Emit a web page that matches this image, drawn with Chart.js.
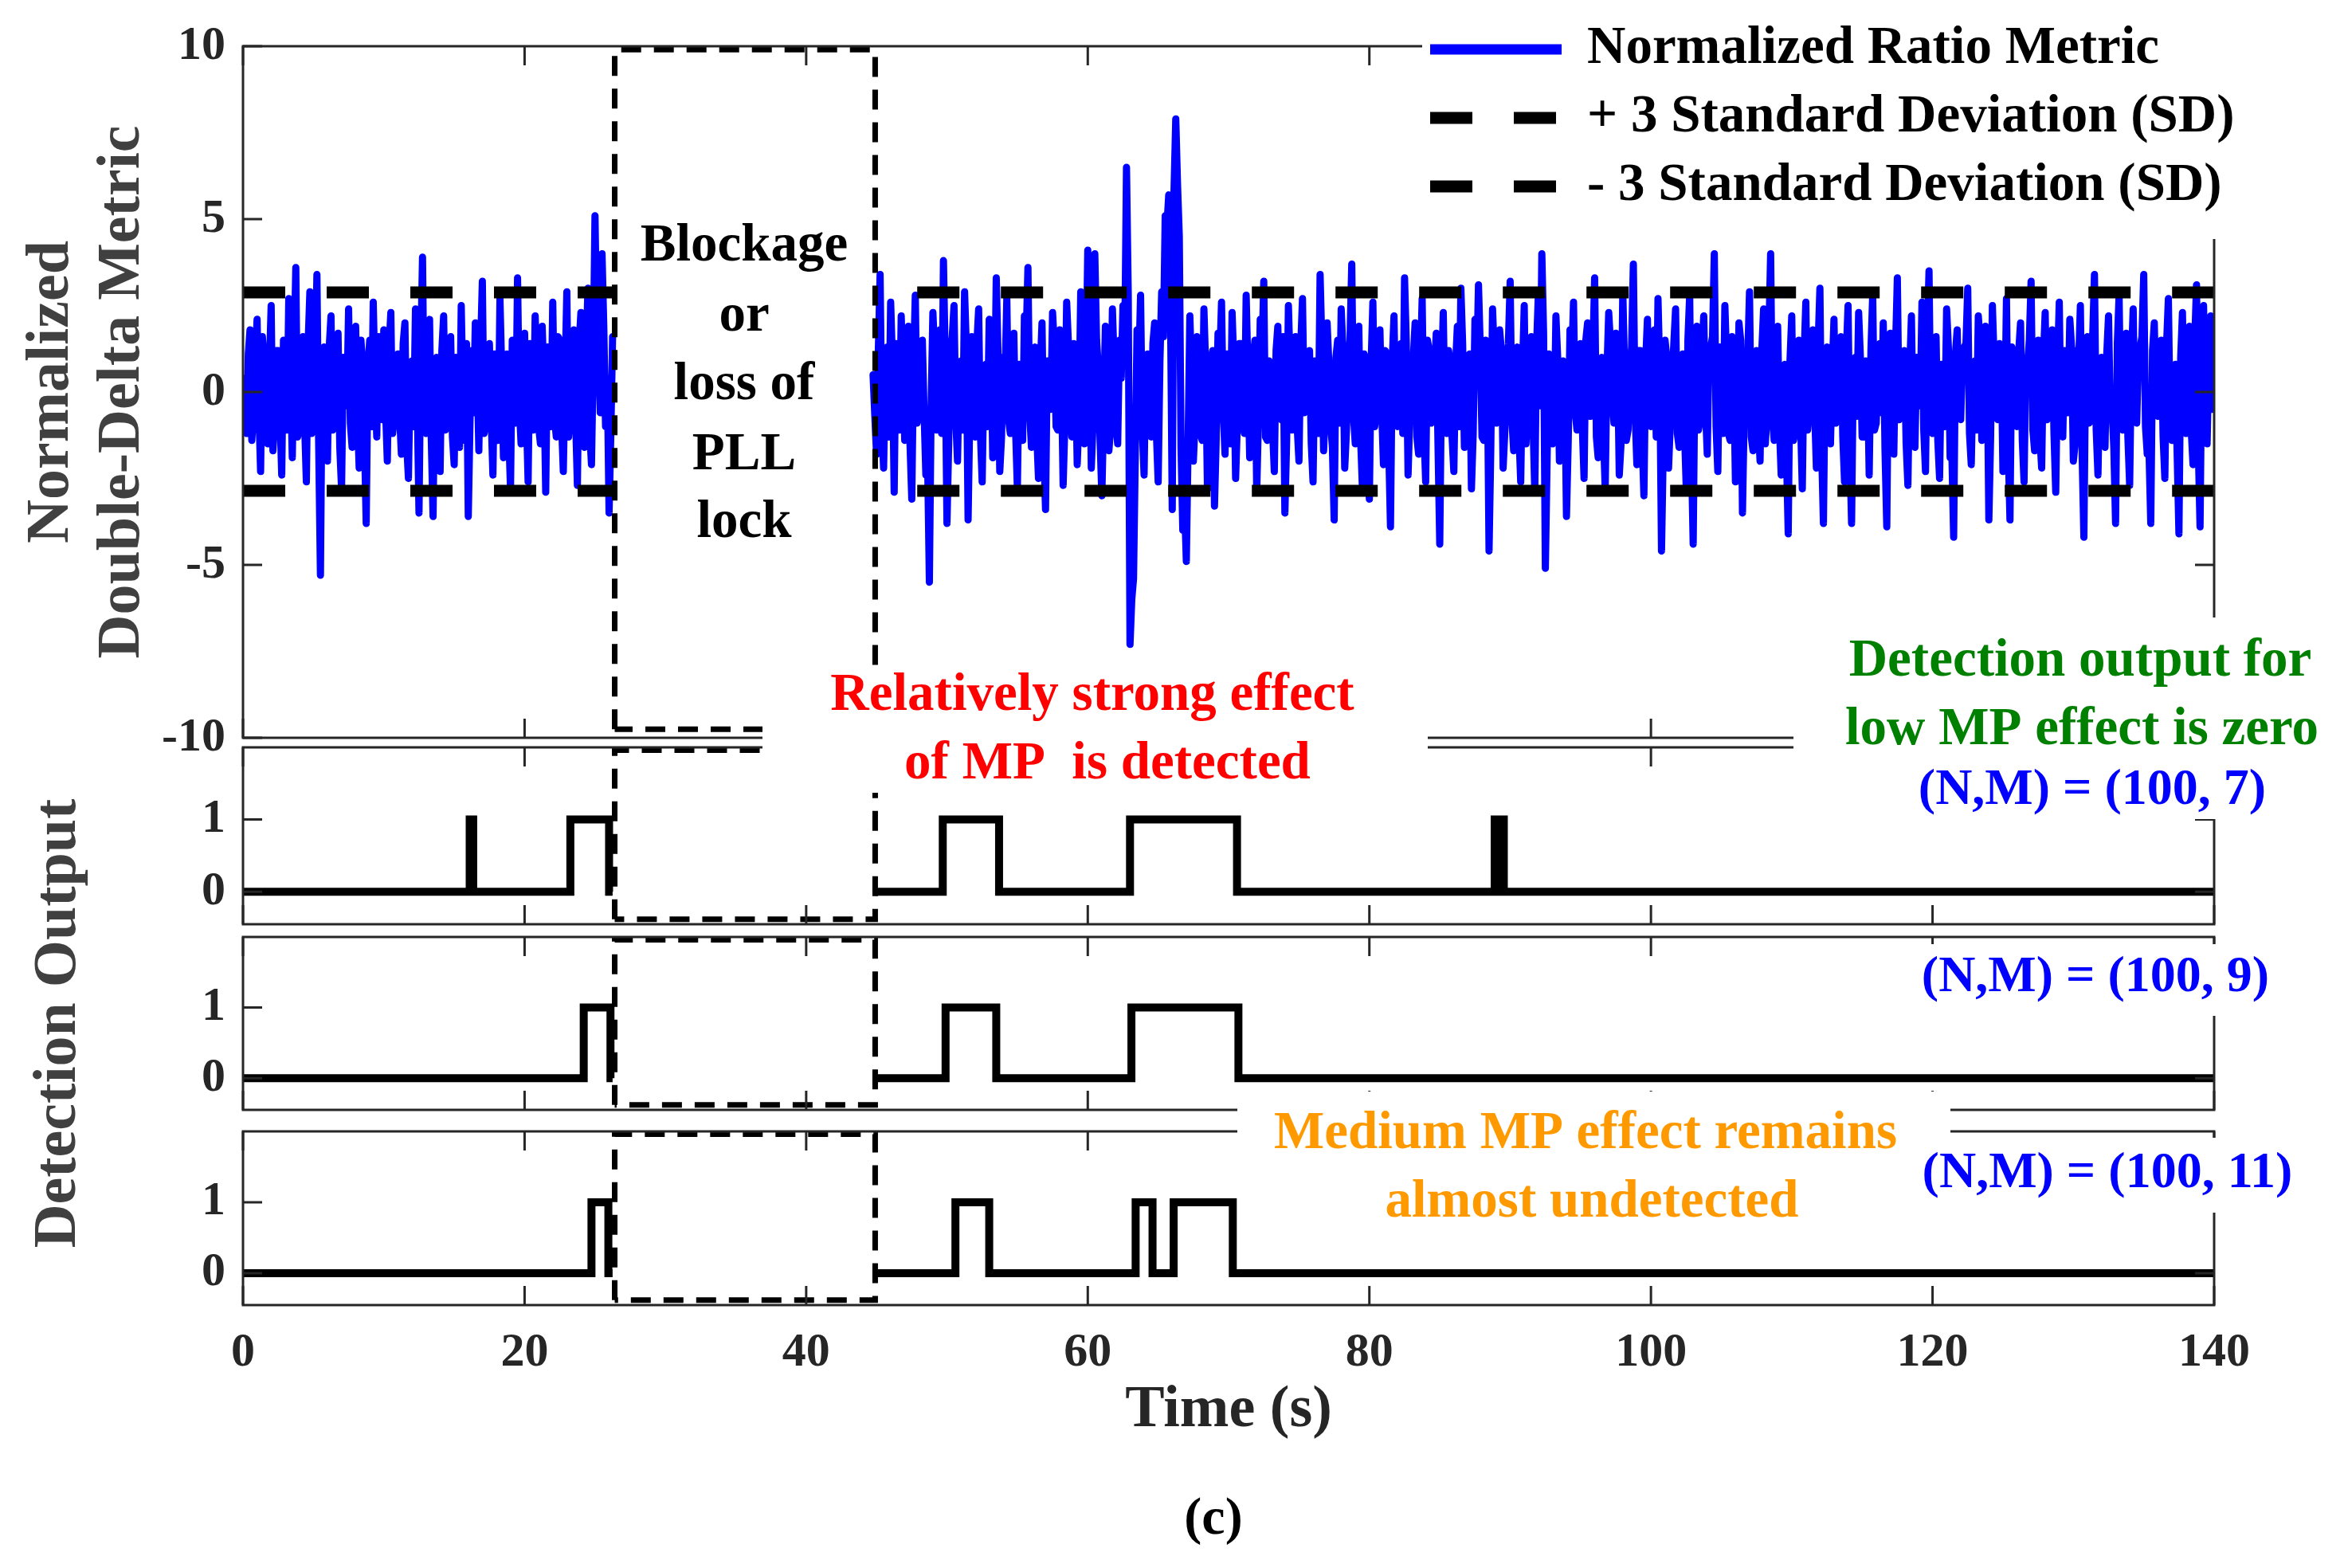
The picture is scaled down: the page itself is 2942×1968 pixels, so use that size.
<!DOCTYPE html>
<html>
<head>
<meta charset="utf-8">
<script src="https://cdn.jsdelivr.net/npm/chart.js@4.4.0/dist/chart.umd.min.js"></script>
<style>
  html, body { margin: 0; padding: 0; background: #ffffff; }
  #page { position: relative; width: 2942px; height: 1968px; }
  #page canvas { position: absolute; left: 0; top: 0; }
</style>
</head>
<body>
<div id="page">
  <canvas id="panelMetric" width="2942" height="1968"></canvas>
  <canvas id="panelM7" width="2942" height="1968"></canvas>
  <canvas id="panelM9" width="2942" height="1968"></canvas>
  <canvas id="panelM11" width="2942" height="1968"></canvas>
</div>
<script>
// ---- values ----
const timeTicks = [0, 20, 40, 60, 80, 100, 120, 140];
const metricTicks = [-10, -5, 0, 5, 10];
const detectionTicks = [0, 1];

// normalized ratio metric: samples every 0.25 s plus the samples half-way between them
const sampleStep = 0.25;
const metricStartBefore = 0;
const metricStartAfter = 44.75;
const metricBefore = [
  0.4, -1.2, 1.8, -0.6, 2.1, -2.3, 0.9, -1.5, 2.5, -0.8,
  1.2, -2.4, 0.3, 2.7, -1.9, 3.6, -1.1, 1.6, -2.6, 2.9,
  -0.4, 3.4, -5.3, 1.3, -2.0, 2.2, -0.9, 1.7, -2.8, 0.6,
  2.4, -1.6, 1.9, -2.2, 0.8, -3.8, 1.5, 2.6, -1.3, 0.2,
  1.8, -2.0, 2.3, -0.7, 1.1, -1.8, 2.0, -2.5, 0.9, 2.4,
  -3.5, 3.9, -1.2, 2.1, -3.6, 1.0, -2.3, 2.2, -0.5, 1.6,
  -2.1, 0.7, 2.5, -1.4, -3.6, 1.2, 2.0, -1.7, 3.2, -0.9,
  1.4, -2.4, 0.5, 2.7, -1.9, 1.1, -2.8, 0.8, 3.3, -1.5,
  1.7, -2.6, 0.4, 2.2, -1.0, 1.9, -2.9, 0.6, 2.6, -1.3,
  1.5, -2.3, 2.9, -0.6, 1.8, -2.7, 2.3, -1.6, 3.0, -2.1,
  5.1, 1.4, 4.0, -1.0, -3.5, 1.6
];
const metricBeforeMid = [
  -0.8, 1.1, -1.4, 0.9, -0.5, 1.6, -1.0, 0.7, -1.7, 1.2,
  -0.6, 1.5, -1.1, 0.4, 1.0, -1.3, 0.8, -0.9, 1.4, -1.2,
  0.6, -1.5, 0.9, -0.7, 1.3, -1.1, 0.5, -1.6, 1.0, -0.4,
  -0.9, 1.2, -0.6, 1.5, -1.3, 0.7, -1.0, 0.3, 1.6, -0.8,
  -0.5, 1.3, -1.2, 0.8, -0.7, 1.4, -1.5, 0.6, -1.0, -0.3,
  1.1, -0.9, 1.5, -1.4, 0.9, -0.6, 1.2, -1.1, 0.7, -1.3,
  1.0, -1.6, -0.2, 1.4, -0.8, -0.6, 0.9, 1.3, -1.2, 0.5,
  -0.7, 1.1, -1.4, 0.6, 1.0, -1.2, 1.5, -0.9, -0.4, 1.2,
  -0.6, 1.4, -1.1, 0.8, -1.5, 0.3, 1.3, -1.0, -0.7, 1.6,
  -0.9, 0.5, -1.3, 1.1, -0.8, 1.4, -0.5, 1.2, -1.1, 0.9,
  1.8, -0.6, 1.9, 0.4, -1.2
];
const metricAfter = [
  0.5, -1.8, 3.4, -2.2, 1.3, 2.6, -2.9, 0.7, 2.2, -1.4, 1.9, -3.1, 2.8, -0.6, 1.5, -2.4, -5.5, 2.3, -1.1, 1.8,
  3.8, -3.8, 1.2, 2.5, -2.0, 0.9, 2.9, -3.7, 1.6, -1.3, 2.4, -2.6, 0.8, 2.1, -1.9, 3.3, -2.3, 1.0, 2.7, -1.2,
  1.7, -2.8, 0.4, 2.2, 3.6, -1.6, 1.3, -2.5, 2.0, -3.4, 0.6, 2.3, -1.0, 1.8, -2.7, 2.6, -0.5, 1.4, -2.1, 2.9,
  -1.5, 4.1, -2.2, 4.0, 0.7, -3.0, 1.9, -1.7, 2.4, -0.9, 1.5, 2.5, 6.5, -7.3, -5.4, 1.8, 2.8, -2.4, 1.1, -1.3,
  2.0, -2.6, 2.9, 5.1, 5.7, -3.4, 7.9, 4.5, -4.0, -4.9, 2.2, -2.0, 1.6, -1.2, 2.4, -2.8, 0.9, -3.3, 1.7, 2.6,
  -1.8, 0.6, 2.3, -2.5, 1.4, -0.7, 2.8, -1.9, 1.0, -2.9, 2.1, 3.2, -1.4, 0.5, -2.3, 1.9, -0.8, -3.5, 2.5, -1.1,
  1.6, -2.0, 2.7, -0.3, 1.2, -2.6, 0.8, 3.4, -1.7, 2.0, -0.9, -3.7, 1.5, 2.4, -2.2, 0.7, 3.7, -1.5, 1.9, -2.7,
  0.9, -3.1, 2.6, -0.6, 1.8, -2.1, 1.1, -3.9, 2.2, -1.0, 1.4, 3.3, -2.4, 0.3, 2.0, -1.8, 2.7, -2.6, 1.2, -0.5,
  1.7, -4.4, 2.3, -1.2, 0.8, -2.3, 1.9, 3.0, -1.6, 0.6, -2.8, 2.1, 3.1, -1.3, 1.5, -4.6, 2.4, -0.9, 1.8, -2.2,
  0.7, 3.2, -1.7, 1.3, -2.6, 2.5, -0.4, 1.6, -2.9, 2.8, 4.0, -5.1, 1.1, -1.5, 2.2, -2.0, 0.9, -3.6, 1.8, 2.6,
  -1.1, 1.4, -2.5, 2.0, -0.7, 3.3, -1.9, 1.0, -2.8, 2.3, -0.2, 1.7, -2.4, 2.9, -1.4, 0.6, 3.7, -2.1, 1.2, -3.0,
  2.1, -1.0, 1.8, 2.7, -4.6, 1.5, -2.2, 0.4, 2.4, -1.6, 1.1, -2.7, 2.8, -4.4, 1.9, -0.8, 2.2, -1.8, 1.3, 4.0,
  -2.3, 0.9, 2.5, -1.2, 1.6, -2.6, 2.0, -3.5, 0.5, 2.9, -1.7, 1.2, -2.0, 2.4, -0.6, 4.0, -1.4, 1.9, -2.4, 0.8,
  -4.1, 2.2, -1.1, 1.5, -2.8, 2.6, -0.4, 1.8, -2.2, 3.0, -3.8, 1.3, -1.5, 2.1, -0.7, 1.6, -2.6, 2.5, -3.8, 1.0,
  2.3, -1.3, 0.9, -2.4, 2.8, -0.9, 1.4, 2.0, -3.9, 1.7, -1.8, 3.3, -0.5, 1.2, -2.7, 2.2, -1.6, 0.7, 2.6, -2.3,
  3.5, -1.2, 1.6, -2.5, 0.6, 2.4, -1.9, -4.2, 1.8, -0.8, 1.3, 3.0, -2.1, 0.9, 2.2, -1.4, 1.9, -3.7, 2.5, -0.6,
  1.4, -2.3, 2.7, -3.7, 1.1, -1.0, 2.0, -2.6, 0.8, 3.2, -1.7, 1.5, -2.2, 2.3, -0.4, 1.8, -2.9, 2.6, -1.3, 0.9,
  2.1, -2.0, 1.2, 2.5, -4.2, 1.6, -0.8, 3.4, -2.4, 1.0, -1.6, 2.2, -0.5, -3.8, 2.8, -1.1, 1.7, -2.7, 2.4, -0.9,
  1.3, 3.4, -1.8, -3.8, 2.0, -0.7, 1.5, -2.5, 2.7, -1.4, 0.8, -4.1, 2.3, -1.2, 1.9, -2.1, 3.1, -3.9, 2.5, -1.5,
  2.2, 0.3
];
const metricAfterMid = [
  -0.7, 1.2, -1.0, 0.6, -1.3, 0.9, 1.4, -1.1, 0.5, 1.0, -1.5, 0.8, -0.9, 1.3, -0.6, -2.0, -0.4, 1.1, 0.3, -1.2,
  0.9, -1.4, 1.6, -0.8, 0.7, -1.1, 1.3, -0.5, -0.9, 1.4, -1.2, 0.6, -1.0, 1.5, -0.7, 1.1, -1.3, 0.4, -0.8, 1.2,
  -1.1, 0.8, -1.4, 1.5, -0.6, 1.0, -1.2, 0.7, -1.6, 0.9, -0.5, 1.3, -1.1, 0.6, -0.9, 1.4, -1.3, 0.8, -0.7, 1.1,
  0.6, 1.8, -0.9, 1.5, -1.4, -0.6, 1.2, -1.0, 0.8, -1.5, 0.4, 1.3, 2.8, -6.0, -1.8, 0.7, -1.1, 1.0, -0.6, 1.4,
  -1.2, 0.9, 1.6, 4.8, 2.5, 5.8, 6.0, -1.6, -3.2, -1.5, 0.5, -0.8, 1.3, -1.4, 0.7, -1.0, 1.2, -1.3, 0.9, -0.6,
  1.1, -1.5, 0.8, -0.9, 1.4, -1.2, 0.6, -1.0, 1.5, -0.7, 1.0, -1.3, 0.9, -1.1, 1.2, -0.5, 1.6, -1.4, 0.7, -0.8,
  -1.0, 1.3, -0.6, 1.1, -1.5, 0.9, -1.2, 1.4, -0.4, 0.8, -1.6, 1.0, -0.9, 1.2, -1.1, 1.5, -0.7, 0.6, -1.3, 1.1,
  -1.4, 0.8, -1.0, 1.3, -0.5, 1.2, -1.6, 0.9, -0.8, 1.1, -1.2, 1.4, -0.6, 1.0, -1.3, 0.7, -1.1, 1.5, -0.9, 0.6,
  -1.5, 0.5, -0.9, 1.2, -1.3, 0.8, -1.0, 1.4, -0.7, 1.1, -1.2, 0.6, 1.3, -1.4, 0.9, -1.6, 1.0, -0.5, 1.2, -1.1,
  1.4, -0.8, 1.0, -1.2, 0.6, -1.5, 1.1, -0.9, 1.3, -0.4, 1.7, -1.9, 0.8, -1.1, 1.0, -1.3, 0.5, -1.4, 0.9, -0.6,
  1.2, -1.0, 1.5, -0.7, 1.1, -1.3, 0.8, -1.2, 0.6, 1.4, -0.9, 1.0, -1.5, 0.7, -1.1, 1.3, -0.6, 1.2, -1.4, 0.9,
  -0.8, 1.1, -1.3, 0.6, -1.6, 1.0, -0.9, 1.4, -1.2, 0.7, -1.0, 1.5, -1.8, 0.8, -1.1, 1.2, -0.5, 1.3, 1.6, -1.0,
  1.3, -1.2, 0.9, -1.4, 0.7, -1.1, 1.5, -0.6, 1.0, -1.3, 0.8, -0.9, 1.2, -1.5, 1.6, -0.7, 1.1, -1.0, 0.6, -1.8,
  0.9, -1.4, 1.2, -0.8, 1.0, -1.1, 1.3, -0.5, 1.4, -1.7, 0.7, -1.2, 0.6, -0.9, 1.5, -1.3, 1.1, -1.6, 0.8, -0.7,
  1.0, -1.3, 0.7, 1.2, -1.1, 0.9, -0.6, -1.7, 1.4, -1.0, 1.3, -0.8, 1.1, -1.5, 0.6, -1.2, 1.0, -0.4, -1.1, 1.6,
  -0.9, 1.2, -1.4, 0.8, -1.0, 1.3, -1.8, 1.1, -0.6, 1.0, 1.4, -1.2, 0.5, -1.1, 1.5, -0.7, 1.2, -1.3, 0.9, -0.8,
  1.1, -1.0, -1.6, 1.3, -0.7, 1.2, -1.4, 0.9, 1.5, -1.1, 0.6, -1.3, 1.0, -0.8, 1.4, -1.2, 0.7, -1.0, 1.2, -0.6,
  1.3, -1.5, 0.8, -1.8, 1.0, -0.9, 1.6, -1.1, 0.5, -1.2, 1.1, -0.7, -1.6, 1.4, -1.0, 1.2, -1.3, 0.9, -0.8, 1.1,
  1.6, -1.0, -1.7, 1.2, -0.6, 1.1, -1.3, 1.4, -0.9, 0.5, -1.8, 1.0, -0.8, 1.3, -1.1, 1.5, -1.6, 1.2, -0.7, 1.0,
  -0.5
];

// +/- 3 SD thresholds and the time spans where they are drawn
const sdUpper = 2.88;
const sdLower = -2.86;
const sdSpans = [[0, 26.5], [45.0, 140]];

// blockage / loss of PLL lock window (s) and the y extent of its dashed box
const blockage = [26.4, 44.9];
const blockageMetricY = [-9.75, 9.9];
const blockageDetectY = [-0.38, 1.96];

// detection outputs: value holds from each time until the next one (null = gap)
const detect7Times  = [0, 16.1, 16.35, 23.25, 26.0, 26.25, 35, 44.9, 49.7, 53.7, 63.0, 70.6, 88.9, 89.1, 89.3, 89.55, 140];
const detect7Values = [0, 1, 0, 1, 0, 0, null, 0, 1, 0, 1, 0, 1, 0, 1, 0, 0];
const detect9Times  = [0, 24.2, 26.1, 26.25, 35, 44.9, 49.9, 53.5, 63.1, 70.7, 140];
const detect9Values = [0, 1, 0, 0, null, 0, 1, 0, 1, 0, 0];
const detect11Times  = [0, 24.75, 25.95, 26.25, 35, 44.9, 50.6, 53.0, 63.4, 64.6, 66.1, 70.3, 140];
const detect11Values = [0, 1, 0, 0, null, 0, 1, 0, 1, 0, 1, 0, 0];

// ---- layout (page pixels) ----
const PAGE_W = 2942, PAGE_H = 1968;
const PLOT_LEFT = 305, PLOT_RIGHT = 2779;
const X_AXIS_H = 200;
const FONT = '"Liberation Serif", "Times New Roman", serif';
const AXIS_COLOR = '#262626';
const TICK_LEN = 24;

Chart.defaults.font.family = FONT;
Chart.defaults.font.weight = 'bold';
Chart.defaults.color = AXIS_COLOR;

const blue = '#0000ff';

// merge the on-grid and half-step samples into one time-ordered series
function seriesPoints(start, values, mids) {
  const pts = [];
  values.forEach((v, i) => {
    pts.push({x: start + i * sampleStep, y: v});
    if (i < mids.length) pts.push({x: start + (i + 0.5) * sampleStep, y: mids[i]});
  });
  return pts;
}

function stepPoints(times, values) {
  return times.map((t, i) => ({x: t, y: values[i]}));
}

function boxPoints(span, ys) {
  return [
    {x: span[0], y: ys[0]}, {x: span[0], y: ys[1]},
    {x: span[1], y: ys[1]}, {x: span[1], y: ys[0]}, {x: span[0], y: ys[0]}
  ];
}

const blockageStyle = {
  borderColor: '#000000', borderWidth: 7, borderDash: [25, 16],
  pointRadius: 0, fill: false, tension: 0
};

// MATLAB-like frame: box plus inward ticks on all four sides
const matlabFrame = {
  id: 'matlabFrame',
  afterDraw(chart) {
    const {ctx, chartArea: a, scales: {x, y}} = chart;
    ctx.save();
    ctx.strokeStyle = AXIS_COLOR;
    ctx.lineWidth = 3;
    ctx.beginPath();
    timeTicks.forEach(v => {
      const px = x.getPixelForValue(v);
      ctx.moveTo(px, a.bottom); ctx.lineTo(px, a.bottom - TICK_LEN);
      ctx.moveTo(px, a.top); ctx.lineTo(px, a.top + TICK_LEN);
    });
    y.ticks.forEach(t => {
      const py = y.getPixelForValue(t.value);
      ctx.moveTo(a.left, py); ctx.lineTo(a.left + TICK_LEN, py);
      ctx.moveTo(a.right, py); ctx.lineTo(a.right - TICK_LEN, py);
    });
    ctx.stroke();
    ctx.strokeRect(a.left, a.top, a.right - a.left, a.bottom - a.top);
    ctx.restore();
  }
};

// white label backgrounds (they hide the axes lines behind the texts)
const labelBoxes = [
  [1785, 0, 2942, 300],
  [957, 835, 1792, 995],
  [2251, 775, 2942, 955],
  [2390, 955, 2880, 1028],
  [2400, 1185, 2880, 1275],
  [1553, 1370, 2448, 1555],
  [2450, 1428, 2910, 1522]
];

const notes = [
  {text: 'Blockage', x: 934, y: 310, color: '#000000'},
  {text: 'or', x: 934, y: 398, color: '#000000'},
  {text: 'loss of', x: 934, y: 484, color: '#000000'},
  {text: 'PLL', x: 934, y: 572, color: '#000000'},
  {text: 'lock', x: 934, y: 657, color: '#000000'},
  {text: 'Relatively strong effect', x: 1371, y: 874, color: '#ff0000'},
  {text: 'of MP  is detected', x: 1390, y: 960, color: '#ff0000'},
  {text: 'Detection output for', x: 2611, y: 831, color: '#008000'},
  {text: 'low MP effect is zero', x: 2613, y: 917, color: '#008000'},
  {text: '(N,M) = (100, 7)', x: 2626, y: 992, color: '#0000ff', size: 64},
  {text: '(N,M) = (100, 9)', x: 2630, y: 1227, color: '#0000ff', size: 64},
  {text: 'Medium MP effect remains', x: 1990, y: 1424, color: '#ff9900'},
  {text: 'almost undetected', x: 1998, y: 1510, color: '#ff9900'},
  {text: '(N,M) = (100, 11)', x: 2645, y: 1473, color: '#0000ff', size: 64},
  {text: '(c)', x: 1523, y: 1908, color: '#000000', size: 66}
];

const legendRows = [
  {label: 'Normalized Ratio Metric', y: 62, color: blue, width: 13, dash: []},
  {label: '+ 3 Standard Deviation (SD)', y: 148, color: '#000000', width: 15, dash: [53, 52]},
  {label: '- 3 Standard Deviation (SD)', y: 234, color: '#000000', width: 15, dash: [53, 52]}
];

const annotationLayer = {
  id: 'annotationLayer',
  afterDraw(chart) {
    const ctx = chart.ctx;
    ctx.save();
    ctx.fillStyle = '#ffffff';
    labelBoxes.forEach(([x0, y0, x1, y1]) => ctx.fillRect(x0, y0, x1 - x0, y1 - y0));

    ctx.textAlign = 'center';
    ctx.textBaseline = 'middle';
    notes.forEach(n => {
      ctx.font = `bold ${n.size || 67}px ${FONT}`;
      ctx.fillStyle = n.color;
      ctx.fillText(n.text, n.x, n.y);
    });

    // legend of the top panel
    ctx.textAlign = 'left';
    ctx.font = `bold 67px ${FONT}`;
    legendRows.forEach(r => {
      ctx.strokeStyle = r.color;
      ctx.lineWidth = r.width;
      ctx.setLineDash(r.dash);
      ctx.beginPath();
      ctx.moveTo(1795, r.y);
      ctx.lineTo(1960, r.y);
      ctx.stroke();
      ctx.fillStyle = '#000000';
      ctx.fillText(r.label, 1992, r.y);
    });
    ctx.restore();
  }
};

function panel(canvasId, cfg) {
  const xScale = {
    type: 'linear', min: 0, max: 140, display: !!cfg.showX,
    afterBuildTicks: s => { s.ticks = timeTicks.map(v => ({value: v})); },
    grid: {display: false, drawTicks: false},
    border: {display: false},
    ticks: {padding: 24, font: {size: 60}, color: AXIS_COLOR, maxRotation: 0},
    title: {
      display: !!cfg.showX, text: 'Time (s)', color: AXIS_COLOR,
      font: {size: 74, lineHeight: 1.17}, padding: {top: 0, bottom: 24}
    }
  };
  if (cfg.showX) xScale.afterFit = s => { s.height = X_AXIS_H; };

  return new Chart(document.getElementById(canvasId), {
    type: 'line',
    data: {datasets: cfg.datasets},
    options: {
      responsive: false,
      animation: false,
      devicePixelRatio: 1,
      events: [],
      layout: {padding: {left: 0, right: PAGE_W - PLOT_RIGHT, top: cfg.top, bottom: cfg.bottomPad}},
      elements: {point: {radius: 0}, line: {tension: 0}},
      plugins: {legend: {display: false}, tooltip: {enabled: false}},
      scales: {
        x: xScale,
        y: {
          type: 'linear', min: cfg.yMin, max: cfg.yMax,
          afterFit: s => { s.width = PLOT_LEFT; },
          afterBuildTicks: s => { s.ticks = cfg.yTicks.map(v => ({value: v})); },
          grid: {display: false, drawTicks: false},
          border: {display: false},
          ticks: {padding: 22, font: {size: 60}, color: AXIS_COLOR},
          title: {
            display: !!cfg.yTitle, text: cfg.yTitle || '', color: '#404040',
            font: {size: 76, lineHeight: 1.17}, padding: {top: cfg.yTitlePad || 0, bottom: 0}
          }
        }
      }
    },
    plugins: cfg.plugins || [matlabFrame]
  });
}

// top panel: normalized double-delta metric
const metricPoints = seriesPoints(metricStartBefore, metricBefore, metricBeforeMid)
  .concat([{x: (blockage[0] + blockage[1]) / 2, y: null}])
  .concat(seriesPoints(metricStartAfter, metricAfter, metricAfterMid));

const sdDatasets = [];
[sdUpper, sdLower].forEach(level => {
  sdSpans.forEach((span, i) => {
    sdDatasets.push({
      data: [{x: span[0], y: level}, {x: span[1], y: level}],
      borderColor: '#000000', borderWidth: 15, borderDash: [53, 52],
      borderDashOffset: i === 0 ? 0 : 54, borderCapStyle: 'butt', pointRadius: 0
    });
  });
});

panel('panelMetric', {
  top: 55, bottomPad: PAGE_H - 926,
  yMin: -10, yMax: 10, yTicks: metricTicks,
  yTitle: ['Normalized', 'Double-Delta Metric'], yTitlePad: 21,
  datasets: [
    Object.assign({data: boxPoints(blockage, blockageMetricY)}, blockageStyle),
    ...sdDatasets,
    {
      label: 'Normalized Ratio Metric', data: metricPoints,
      borderColor: blue, borderWidth: 9, borderJoinStyle: 'round', borderCapStyle: 'round',
      pointRadius: 0, spanGaps: false
    }
  ]
});

function detectionDatasets(times, values) {
  return [
    Object.assign({data: boxPoints(blockage, blockageDetectY)}, blockageStyle),
    {
      data: stepPoints(times, values), stepped: 'before',
      borderColor: '#000000', borderWidth: 10, pointRadius: 0, spanGaps: false,
      borderJoinStyle: 'miter'
    }
  ];
}

panel('panelM7', {
  top: 938, bottomPad: PAGE_H - 1160,
  yMin: -0.45, yMax: 2.0, yTicks: detectionTicks,
  datasets: detectionDatasets(detect7Times, detect7Values)
});

panel('panelM9', {
  top: 1176, bottomPad: PAGE_H - 1393,
  yMin: -0.45, yMax: 2.0, yTicks: detectionTicks,
  yTitle: 'Detection Output', yTitlePad: 30,
  datasets: detectionDatasets(detect9Times, detect9Values)
});

panel('panelM11', {
  top: 1420, bottomPad: PAGE_H - 1638 - X_AXIS_H, showX: true,
  yMin: -0.45, yMax: 2.0, yTicks: detectionTicks,
  datasets: detectionDatasets(detect11Times, detect11Values),
  plugins: [matlabFrame, annotationLayer]
});
</script>
</body>
</html>
